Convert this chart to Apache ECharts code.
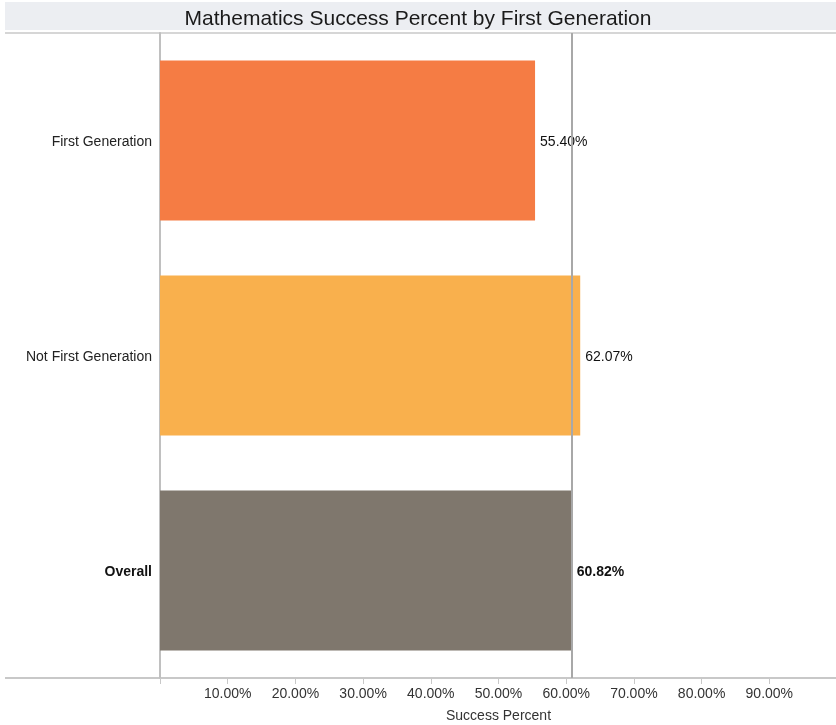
<!DOCTYPE html>
<html>
<head>
<meta charset="utf-8">
<script src="https://cdn.jsdelivr.net/npm/echarts@6/dist/echarts.min.js"></script>
<style>html,body{margin:0;padding:0;background:#fff;}#c{width:836px;height:725px;}</style>
</head>
<body>
<div id="c"></div>
<script>
const categories = ['First Generation', 'Not First Generation', 'Overall'];
const values = [55.40, 62.07, 60.82];
const barColors = ['#f57c44', '#f9b04d', '#7f776d'];
const referenceValue = 60.82;
const tickValues = [10, 20, 30, 40, 50, 60, 70, 80, 90];

const chart = echarts.init(document.getElementById('c'), null, {renderer: 'canvas'});
const font = 'Arial, "Liberation Sans", sans-serif';
chart.setOption({
  animation: false,
  title: {
    text: 'Mathematics Success Percent by First Generation',
    left: 'center', top: 4,
    textStyle: {fontFamily: font, fontSize: 21, fontWeight: 'normal', color: '#1a1a1a'}
  },
  graphic: [
    {type: 'rect', z: -1, shape: {x: 5, y: 2, width: 831, height: 28}, style: {fill: '#eceef2'}},
    {type: 'line', shape: {x1: 5, y1: 33, x2: 836, y2: 33}, style: {stroke: '#d6d6d6', lineWidth: 2}},
    {type: 'line', shape: {x1: 5, y1: 678, x2: 836, y2: 678}, style: {stroke: '#c8c8c8', lineWidth: 2}}
  ],
  grid: {left: 160, top: 33, width: 677, height: 645, containLabel: false, outerBoundsMode: 'none'},
  xAxis: {
    type: 'value', min: 0, max: 100, interval: 10,
    axisLine: {show: false},
    axisTick: {show: true, length: 6, lineStyle: {color: '#c8c8c8'}},
    splitLine: {show: false},
    axisLabel: {
      fontFamily: font, fontSize: 14, color: '#333', margin: 9,
      formatter: v => tickValues.includes(v) ? v.toFixed(2) + '%' : ''
    },
    name: 'Success Percent', nameLocation: 'middle', nameGap: 31,
    nameTextStyle: {fontFamily: font, fontSize: 14, color: '#333'}
  },
  yAxis: {
    type: 'category', data: categories, inverse: true,
    axisLine: {show: true, lineStyle: {color: '#c0c0c0', width: 2}},
    axisTick: {show: false},
    axisLabel: {
      fontFamily: font, fontSize: 14, color: '#222', margin: 8, padding: [3, 0, 0, 0],
      formatter: v => v === 'Overall' ? '{b|' + v + '}' : v,
      rich: {b: {fontFamily: font, fontSize: 14, fontWeight: 'bold', color: '#111'}}
    }
  },
  series: [{
    type: 'bar', barWidth: 160,
    data: values.map((v, i) => ({
      value: v,
      itemStyle: {color: barColors[i]},
      label: {fontWeight: i === 2 ? 'bold' : 'normal'}
    })),
    label: {
      show: true, position: 'right', distance: 5, offset: [0, 2],
      fontFamily: font, fontSize: 14, color: '#111',
      formatter: p => p.value.toFixed(2) + '%'
    },
    markLine: {
      silent: true, symbol: ['none', 'none'],
      label: {show: false},
      lineStyle: {color: '#a8a8a8', width: 2, type: 'solid'},
      data: [{xAxis: referenceValue}]
    }
  }]
});
</script>
</body>
</html>
